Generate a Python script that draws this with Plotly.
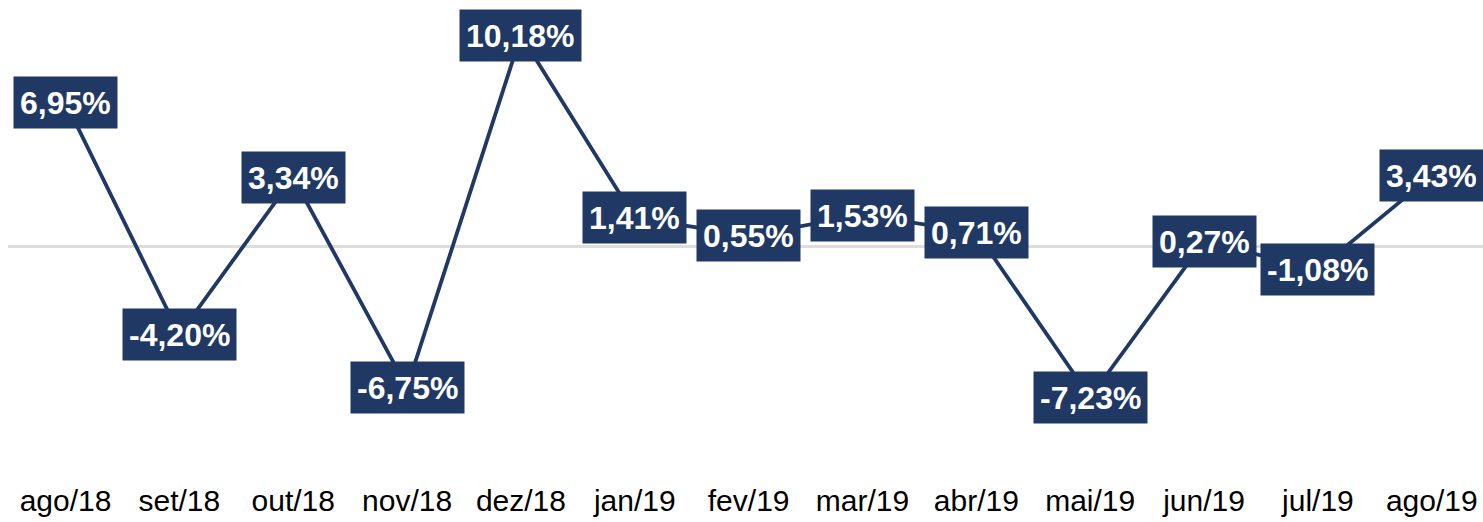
import plotly.graph_objects as go

months = ["ago/18", "set/18", "out/18", "nov/18", "dez/18", "jan/19", "fev/19",
          "mar/19", "abr/19", "mai/19", "jun/19", "jul/19", "ago/19"]
values = [6.95, -4.20, 3.34, -6.75, 10.18, 1.41, 0.55, 1.53, 0.71, -7.23, 0.27, -1.08, 3.43]

NAVY = "#203864"

def fmt(v):
    return f"{v:.2f}".replace(".", ",") + "%"

fig = go.Figure()
fig.add_trace(go.Scatter(
    x=months, y=values, mode="lines",
    line=dict(color=NAVY, width=3.8),
    hoverinfo="skip", showlegend=False,
))

for m, v in zip(months, values):
    fig.add_annotation(
        x=m, y=v, xref="x", yref="y", text=fmt(v), showarrow=False,
        font=dict(family="Liberation Sans Narrow, Arial Narrow, Liberation Sans, Arial, sans-serif",
                  size=32, color="white", weight="bold"),
        bgcolor=NAVY, borderpad=6, height=39, valign="middle",
    )

fig.update_layout(
    width=1483, height=522,
    margin=dict(l=8, r=0, t=0, b=60),
    paper_bgcolor="white", plot_bgcolor="white",
    hovermode=False,
    xaxis=dict(
        type="category", range=[-0.505, 12.45],
        showgrid=False, zeroline=False, showline=False, ticks="",
        tickfont=dict(family="Liberation Sans, Arial, sans-serif", size=30, color="black"),
        ticklabelstandoff=18,
    ),
    yaxis=dict(
        range=[-10.34, 11.875], showgrid=False, showticklabels=False,
        zeroline=True, zerolinecolor="#DDDDDD", zerolinewidth=2.5,
    ),
)

fig.write_html(
    "out.html",
    config={"displayModeBar": False},
    post_script="document.body.style.margin='0';document.body.style.overflow='hidden';",
)
